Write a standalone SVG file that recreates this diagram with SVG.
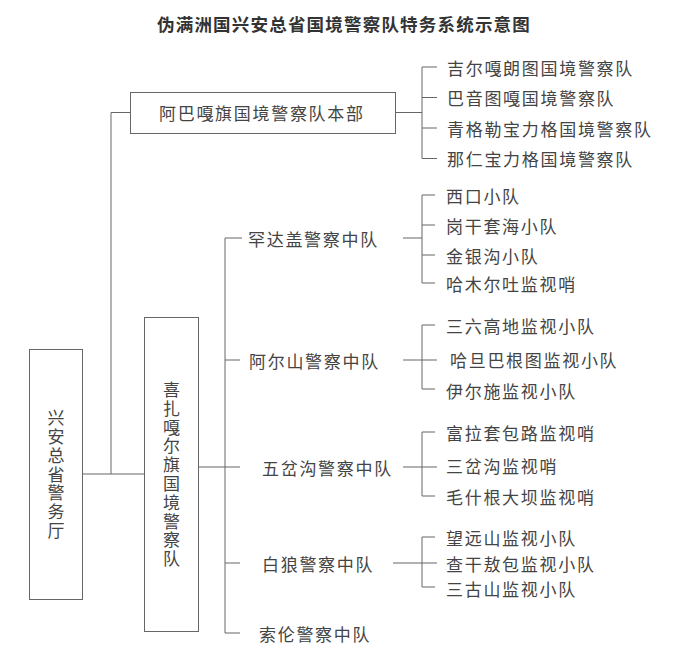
<svg xmlns="http://www.w3.org/2000/svg" width="675" height="657" viewBox="0 0 675 657">
<style>
  .bg { fill: #ffffff; }
  .box { fill: none; stroke: #666; stroke-width: 1; }
  .ln { fill: none; stroke: #666; stroke-width: 1; }
  .t { font-family: "Noto Sans CJK SC", "Noto Sans CJK JP", sans-serif; font-size: 17px; letter-spacing: 1.7px; fill: #444; dominant-baseline: central; }
  .tv { font-family: "Noto Sans CJK SC", "Noto Sans CJK JP", sans-serif; font-size: 17px; letter-spacing: 1.8px; fill: #444; writing-mode: vertical-rl; text-anchor: middle; }
  .title { font-family: "Noto Sans CJK SC", "Noto Sans CJK JP", sans-serif; font-size: 17.5px; font-weight: bold; letter-spacing: 1.2px; fill: #333; dominant-baseline: central; }
</style>
<rect class="bg" x="0" y="0" width="675" height="657"/>

<text id="title" class="title" x="157" y="23">伪满洲国兴安总省国境警察队特务系统示意图</text>

<g id="connectors">
  <path class="ln" d="M111 112.5 H130 M111 112.5 V474 M82 474 H144"/>
  <path class="ln" d="M198 467 H225 M225 238 V633 M225 238 H242 M225 360 H240 M225 467 H240 M225 563 H240 M225 633 H240"/>
  <path class="ln" d="M395 112.5 H422 M422 67 V158.5 M422 67 H437 M422 97.5 H437 M422 128 H437 M422 158.5 H437"/>
  <path class="ln" d="M403 238 H422 M422 195 V283 M422 195 H435 M422 225 H435 M422 255 H435 M422 283 H435"/>
  <path class="ln" d="M403 360 H437 M422 325 V389 M422 325 H435 M422 389 H435"/>
  <path class="ln" d="M403 467 H437 M422 432 V496 M422 432 H435 M422 496 H435"/>
  <path class="ln" d="M393 563 H437 M422 537 V587 M422 537 H435 M422 587 H435"/>
</g>

<g id="node-xingan">
  <rect class="box" x="29.5" y="349.5" width="53" height="250"/>
  <text class="tv" x="56" y="475">兴安总省警务厅</text>
</g>

<g id="node-abaga">
  <rect class="box" x="130.5" y="92.5" width="265" height="41"/>
  <text class="t" x="159" y="112.5">阿巴嘎旗国境警察队本部</text>
</g>

<g id="node-abaga-subs">
  <text class="t" x="447" y="67">吉尔嘎朗图国境警察队</text>
  <text class="t" x="447" y="97.5">巴音图嘎国境警察队</text>
  <text class="t" x="447" y="128">青格勒宝力格国境警察队</text>
  <text class="t" x="447" y="158.5">那仁宝力格国境警察队</text>
</g>

<g id="node-xizhagaer">
  <rect class="box" x="144.5" y="317.5" width="54" height="314"/>
  <text class="tv" x="171.5" y="475">喜扎嘎尔旗国境警察队</text>
</g>

<g id="node-handagai">
  <text class="t" x="248" y="238">罕达盖警察中队</text>
  <text class="t" x="446" y="195">西口小队</text>
  <text class="t" x="446" y="225">岗干套海小队</text>
  <text class="t" x="446" y="255">金银沟小队</text>
  <text class="t" x="446" y="283">哈木尔吐监视哨</text>
</g>

<g id="node-aershan">
  <text class="t" x="249" y="360">阿尔山警察中队</text>
  <text class="t" x="446" y="325">三六高地监视小队</text>
  <text class="t" x="450" y="359">哈旦巴根图监视小队</text>
  <text class="t" x="446" y="390">伊尔施监视小队</text>
</g>

<g id="node-wuchagou">
  <text class="t" x="262" y="467">五岔沟警察中队</text>
  <text class="t" x="446" y="432">富拉套包路监视哨</text>
  <text class="t" x="446" y="465">三岔沟监视哨</text>
  <text class="t" x="446" y="496">毛什根大坝监视哨</text>
</g>

<g id="node-bailang">
  <text class="t" x="262" y="563">白狼警察中队</text>
  <text class="t" x="446" y="537">望远山监视小队</text>
  <text class="t" x="446" y="563">查干敖包监视小队</text>
  <text class="t" x="446" y="588">三古山监视小队</text>
</g>

<g id="node-suolun">
  <text class="t" x="259" y="633">索伦警察中队</text>
</g>
</svg>
